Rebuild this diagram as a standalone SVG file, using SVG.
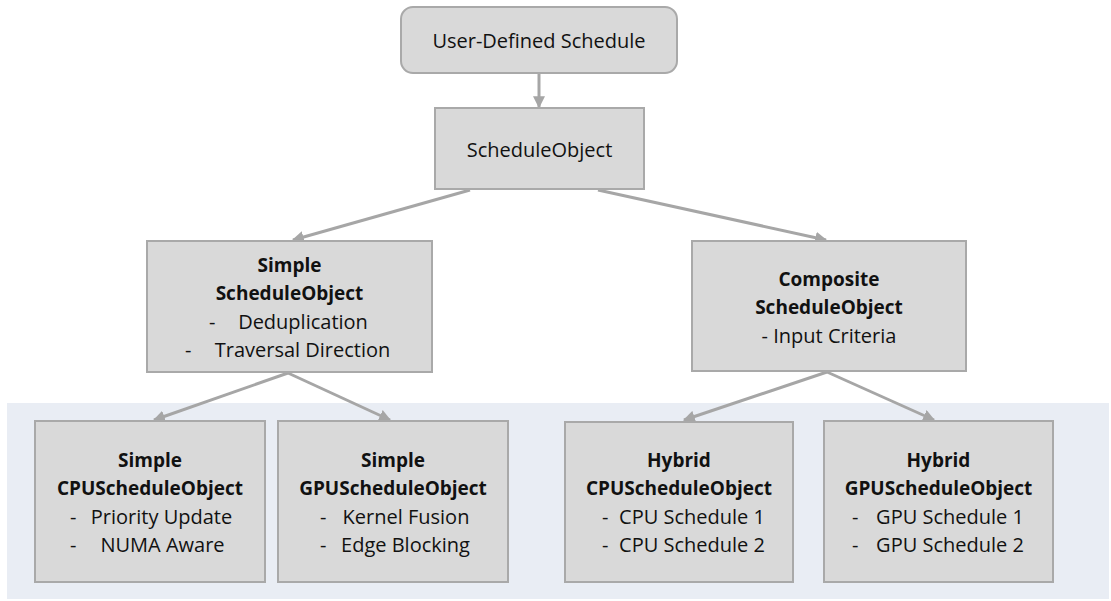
<svg xmlns="http://www.w3.org/2000/svg" width="1111" height="601" viewBox="0 0 1111 601">
<defs>
<style>
.box{fill:#d9d9d9;stroke:#a9a9a9;stroke-width:2}
.t{font-family:"Open Sans","Liberation Sans",sans-serif;font-size:20px;fill:#111;text-anchor:middle}
.b{font-weight:bold;font-size:19px}
.d{text-anchor:start}
.c{stroke:#a6a6a6;stroke-width:3;fill:none;marker-end:url(#ah)}
</style>
<marker id="ah" viewBox="0 0 10 10" refX="9" refY="5" markerWidth="4" markerHeight="4" orient="auto" markerUnits="strokeWidth">
<path d="M0,0 L10,5 L0,10 Z" fill="#a6a6a6"/>
</marker>
</defs>
<rect x="7" y="403" width="1102" height="196" fill="#e9edf4"/>
<g id="connectors">
<line class="c" x1="539" y1="74" x2="539" y2="107"/>
<line class="c" x1="470" y1="190" x2="293" y2="240"/>
<line class="c" x1="598" y1="190" x2="826" y2="240"/>
<line class="c" x1="288" y1="373" x2="154" y2="420"/>
<line class="c" x1="288" y1="373" x2="390" y2="420"/>
<line class="c" x1="827" y1="372" x2="684" y2="420"/>
<line class="c" x1="827" y1="372" x2="934" y2="420"/>
</g>
<g id="user-defined">
<rect x="401" y="7" width="276" height="66" rx="12" class="box"/>
<text class="t" x="539" y="48">User-Defined Schedule</text>
</g>
<g id="schedule-object">
<rect x="435" y="108" width="209" height="81" class="box"/>
<text class="t" x="539.5" y="157">ScheduleObject</text>
</g>
<g id="simple">
<rect x="147" y="241" width="285" height="131" class="box"/>
<text class="t b" x="289.5" y="272">Simple</text>
<text class="t b" x="289.5" y="300">ScheduleObject</text>
<text class="t" x="303" y="329">Deduplication</text>
<text class="t d" x="209" y="329">-</text>
<text class="t" x="302.5" y="357">Traversal Direction</text>
<text class="t d" x="185" y="357">-</text>
</g>
<g id="composite">
<rect x="692" y="241" width="274" height="130" class="box"/>
<text class="t b" x="829" y="286">Composite</text>
<text class="t b" x="829" y="314">ScheduleObject</text>
<text class="t" x="829" y="343">- Input Criteria</text>
</g>
<g id="simple-cpu">
<rect x="35" y="421" width="230" height="161" class="box"/>
<text class="t b" x="150" y="467">Simple</text>
<text class="t b" x="150" y="495">CPUScheduleObject</text>
<text class="t" x="161.5" y="524">Priority Update</text>
<text class="t d" x="70" y="524">-</text>
<text class="t" x="162.5" y="552">NUMA Aware</text>
<text class="t d" x="70" y="552">-</text>
</g>
<g id="simple-gpu">
<rect x="278" y="421" width="230" height="161" class="box"/>
<text class="t b" x="393" y="467">Simple</text>
<text class="t b" x="393" y="495">GPUScheduleObject</text>
<text class="t" x="406" y="524">Kernel Fusion</text>
<text class="t d" x="320" y="524">-</text>
<text class="t" x="405.5" y="552">Edge Blocking</text>
<text class="t d" x="320" y="552">-</text>
</g>
<g id="hybrid-cpu">
<rect x="565" y="422" width="228" height="160" class="box"/>
<text class="t b" x="679" y="467">Hybrid</text>
<text class="t b" x="679" y="495">CPUScheduleObject</text>
<text class="t" x="692" y="524">CPU Schedule 1</text>
<text class="t d" x="602" y="524">-</text>
<text class="t" x="692" y="552">CPU Schedule 2</text>
<text class="t d" x="602" y="552">-</text>
</g>
<g id="hybrid-gpu">
<rect x="824" y="421" width="229" height="161" class="box"/>
<text class="t b" x="938.5" y="467">Hybrid</text>
<text class="t b" x="938.5" y="495">GPUScheduleObject</text>
<text class="t" x="950" y="524">GPU Schedule 1</text>
<text class="t d" x="852" y="524">-</text>
<text class="t" x="950" y="552">GPU Schedule 2</text>
<text class="t d" x="852" y="552">-</text>
</g>
</svg>
